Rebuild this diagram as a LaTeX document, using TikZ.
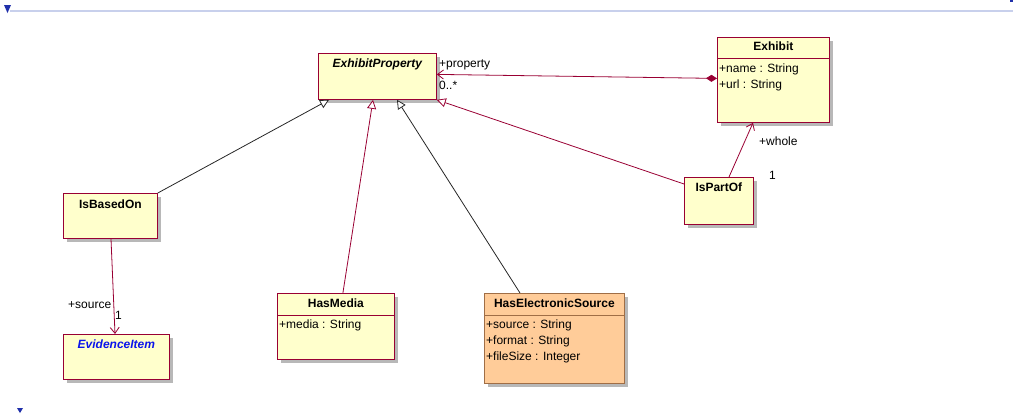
\documentclass[tikz,border=0pt]{standalone}
\usepackage{fontspec}
\setmainfont{Liberation Sans}
\usetikzlibrary{arrows.meta,shadows}

\definecolor{umlred}{RGB}{153,0,51}
\definecolor{umlfill}{RGB}{255,255,204}
\definecolor{umlpeach}{RGB}{255,204,153}
\definecolor{umlbrown}{RGB}{160,110,70}
\definecolor{umlblue}{RGB}{32,48,170}
\definecolor{abstractblue}{RGB}{10,20,235}
\definecolor{rulerblue}{RGB}{200,208,236}

\tikzset{
  classbox/.style={draw=umlred, fill=umlfill, line width=0.8pt, anchor=north west, inner sep=0pt,
    drop shadow={shadow xshift=4pt, shadow yshift=-4pt, fill=black!28, opacity=1}},
  classname/.style={anchor=base, inner sep=0pt, font=\fontsize{12}{14}\selectfont\bfseries},
  attrs/.style={anchor=north west, align=left, inner sep=0pt, font=\fontsize{12}{16}\selectfont},
  rolelabel/.style={anchor=base west, inner sep=0pt, font=\fontsize{12}{14}\selectfont},
  gen/.style={line width=0.8pt, -{Triangle[open, length=9pt, width=9pt, fill=white]}},
  nav/.style={line width=0.8pt, -{Straight Barb[length=6pt, width=9pt]}},
}

\begin{document}
\begin{tikzpicture}[x=1pt, y=-1pt]
\useasboundingbox (0,0) rectangle (1013,413);

% page markers
\draw[rulerblue, line width=2pt] (10,11) -- (1013,11);
\fill[umlblue] (4,5) -- (11,5) -- (7.5,13) -- cycle;
\fill[umlblue] (1010,0) rectangle (1013,2);
\fill[umlblue] (17,408) -- (23,408) -- (20,413) -- cycle;

% classes
\node[classbox, minimum width=118pt, minimum height=46pt] (prop) at (318,53) {};
\node[classname] (propname) at ([yshift=-14pt]prop.north) {\itshape ExhibitProperty};

\node[classbox, minimum width=112pt, minimum height=85pt] (exhibit) at (717,37) {};
\node[classname] (exhibitname) at ([yshift=-13pt]exhibit.north) {Exhibit};
\draw[umlred, line width=0.8pt] ([yshift=-21pt]exhibit.north west) -- ([yshift=-21pt]exhibit.north east);
\node[attrs] (exhibitattrs) at ([xshift=2pt, yshift=-26.5pt]exhibit.north west) {+name : String\\+url : String};

\node[classbox, minimum width=94pt, minimum height=45pt] (isbased) at (63,193) {};
\node[classname] (isbasedname) at ([yshift=-15pt]isbased.north) {IsBasedOn};

\node[classbox, minimum width=106pt, minimum height=45pt] (evidence) at (63,334) {};
\node[classname, text=abstractblue] (evidencename) at ([yshift=-14pt]evidence.north) {\itshape EvidenceItem};

\node[classbox, minimum width=117pt, minimum height=66pt] (hasmedia) at (277,293) {};
\node[classname] (hasmedianame) at ([yshift=-14pt]hasmedia.north) {HasMedia};
\draw[umlred, line width=0.8pt] ([yshift=-22pt]hasmedia.north west) -- ([yshift=-22pt]hasmedia.north east);
\node[attrs] (hasmediaattrs) at ([xshift=2pt, yshift=-26.5pt]hasmedia.north west) {+media : String};

\node[classbox, draw=umlbrown, fill=umlpeach, minimum width=140pt, minimum height=90pt] (haselec) at (484,293) {};
\node[classname] (haselecname) at ([yshift=-14pt]haselec.north) {HasElectronicSource};
\draw[umlbrown, line width=0.8pt] ([yshift=-22pt]haselec.north west) -- ([yshift=-22pt]haselec.north east);
\node[attrs] (haselecattrs) at ([xshift=2pt, yshift=-26.5pt]haselec.north west) {+source : String\\+format : String\\+fileSize : Integer};

\node[classbox, minimum width=69pt, minimum height=47pt] (ispartof) at (684,177) {};
\node[classname] (ispartofname) at ([yshift=-14pt]ispartof.north) {IsPartOf};

% generalizations
\draw[gen, black!85] (isbased.north east) -- ([xshift=11pt]prop.south west);
\draw[gen, umlred] ([xshift=7pt]hasmedia.north) -- ([xshift=55pt]prop.south west);
\draw[gen, black!85] ([xshift=36pt]haselec.north west) -- ([xshift=79pt]prop.south west);
\draw[gen, umlred] ([yshift=-7pt]ispartof.north west) -- (prop.south east);

% associations
\draw[umlred, line width=0.8pt, {Straight Barb[length=6pt, width=9pt]}-{Diamond[length=11pt, width=7pt]}]
  ([yshift=2pt]prop.east) -- ([yshift=1.5pt]exhibit.west);
\draw[nav, umlred] ([xshift=45pt]ispartof.north west) -- ([xshift=36pt]exhibit.south west);
\draw[nav, umlred] ([xshift=48pt]isbased.south west) -- ([xshift=52pt]evidence.north west);

% role names
\node[rolelabel] (propertyrole) at (439,67) {+property};
\node[rolelabel] (propertymult) at (439,89) {0..*};
\node[rolelabel] (wholerole) at (759,145) {+whole};
\node[rolelabel] (wholemult) at (769,179) {1};
\node[rolelabel] (sourcerole) at (68,308) {+source};
\node[rolelabel] (sourcemult) at (115,319) {1};

\end{tikzpicture}
\end{document}
